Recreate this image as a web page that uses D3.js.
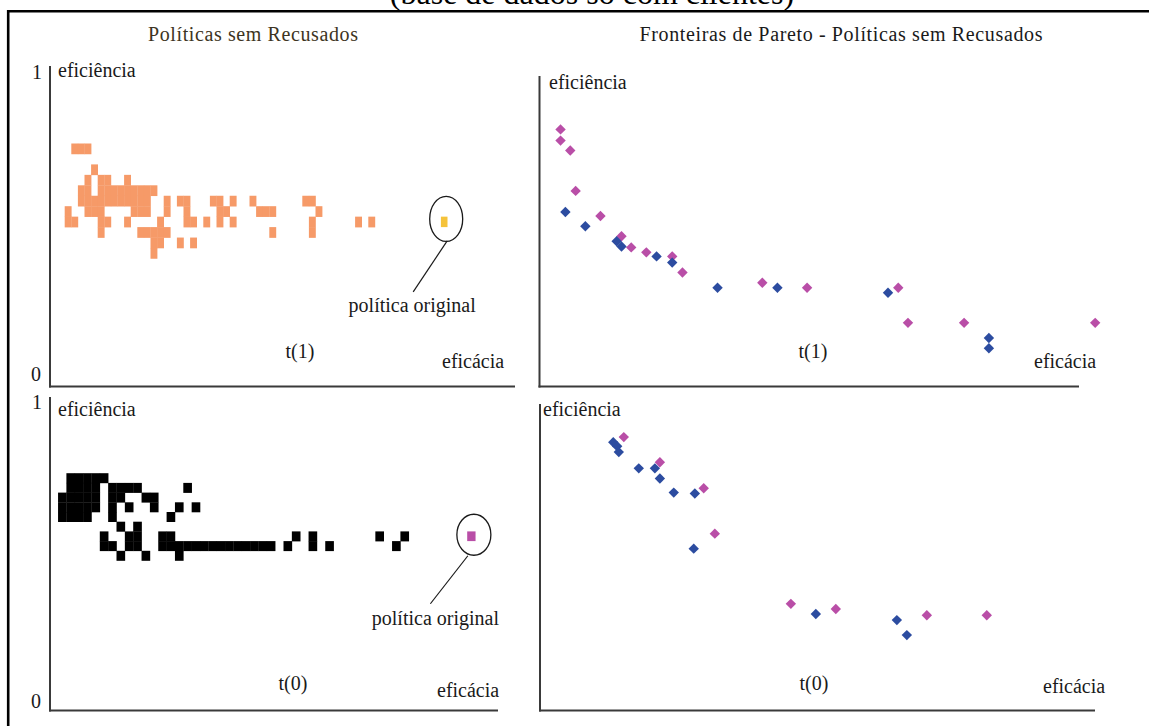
<!DOCTYPE html>
<html>
<head>
<meta charset="utf-8">
<script src="https://cdn.jsdelivr.net/npm/d3@7"></script>
<style>
  body { margin: 0; background: #fff; }
  svg text { font-family: "Liberation Serif", "Times New Roman", serif; }
</style>
</head>
<body>
<svg id="chart" width="1149" height="726"></svg>
<script>
// ---------- data ----------
const caption = "(base de dados só com clientes)";
const panelTitles = ["Políticas sem Recusados", "Fronteiras de Pareto - Políticas sem Recusados"];
const periods = ["t(1)", "t(0)"];
const yAxisName = "eficiência";
const xAxisName = "eficácia";
const yTickLabels = ["0", "1"];
const originalLabel = "política original";

// Policy grid cells, period t(1): [eficácia bin, eficiência row (top = 0)]
const cellsT1 = [
  [1,0],[2,0],[3,0],
  [4,2],
  [3,3],[5,3],[6,3],[9,3],
  [2,4],[3,4],[5,4],[6,4],[7,4],[8,4],[9,4],[10,4],[11,4],[12,4],[13,4],
  [2,5],[3,5],[4,5],[5,5],[6,5],[7,5],[8,5],[9,5],[10,5],[11,5],[12,5],[15,5],[17,5],[18,5],
  [22,5],[23,5],[25,5],[28,5],[36,5],[37,5],
  [0,6],[3,6],[4,6],[5,6],[10,6],[11,6],[12,6],[15,6],[18,6],[23,6],[24,6],[29,6],[30,6],[31,6],[38,6],
  [0,7],[1,7],[5,7],[6,7],[9,7],[14,7],[18,7],[19,7],[21,7],[23,7],[25,7],[37,7],[44,7],[46,7],
  [5,8],[11,8],[12,8],[13,8],[14,8],[15,8],[31,8],[37,8],
  [13,9],[14,9],[17,9],[19,9],
  [13,10]
];
const originalT1 = [57, 7];

// Policy grid cells, period t(0)
const cellsT0 = [
  [1,1],[2,1],[3,1],[4,1],[5,1],
  [1,2],[2,2],[3,2],[4,2],[6,2],[7,2],[8,2],[9,2],[15,2],
  [0,3],[1,3],[2,3],[3,3],[4,3],[6,3],[7,3],[10,3],[11,3],
  [0,4],[1,4],[2,4],[3,4],[4,4],[6,4],[8,4],[11,4],[14,4],[16,4],
  [0,5],[1,5],[2,5],[3,5],[6,5],[13,5],
  [7,6],[9,6],
  [5,7],[8,7],[9,7],[12,7],[13,7],[28,7],[30,7],[38,7],[41,7],
  [5,8],[6,8],[8,8],[9,8],[12,8],[13,8],[14,8],[15,8],[16,8],[17,8],[18,8],[19,8],[20,8],
  [21,8],[22,8],[23,8],[24,8],[25,8],[27,8],[30,8],[32,8],[40,8],
  [7,9],[10,9],[14,9]
];
const originalT0 = [49, 7];

// Pareto fronts: [eficácia, eficiência]
const frontT1A = [
  [0.048,0.562],[0.085,0.516],[0.143,0.468],[0.152,0.451],[0.217,0.419],[0.246,0.399],
  [0.330,0.318],[0.441,0.318],[0.646,0.302],[0.833,0.156],[0.833,0.123]
];
const frontT1B = [
  [0.039,0.828],[0.039,0.792],[0.057,0.760],[0.067,0.630],[0.113,0.549],[0.152,0.484],
  [0.170,0.448],[0.198,0.432],[0.246,0.419],[0.265,0.367],[0.413,0.334],[0.496,0.318],
  [0.665,0.318],[0.683,0.205],[0.787,0.205],[1.030,0.205]
];
const frontT0A = [
  [0.132,0.875],[0.139,0.862],[0.142,0.843],[0.178,0.790],[0.207,0.790],[0.216,0.757],
  [0.241,0.711],[0.279,0.708],[0.277,0.528],[0.497,0.315],[0.643,0.295],[0.661,0.246]
];
const frontT0B = [
  [0.151,0.892],[0.216,0.810],[0.295,0.725],[0.315,0.577],[0.452,0.348],[0.533,0.331],
  [0.697,0.311],[0.805,0.311]
];

// ---------- drawing ----------
const svg = d3.select("#chart");
const INK = "#1a1a1a";
const AXIS = "#3a3a3a";
const ORANGE = "#f69a68";
const YELLOW = "#f5c33b";
const BLUE = "#2c4ca0";
const MAGENTA = "#b94ea7";

// outer frame and caption
svg.append("text").attr("x", 592).attr("y", 4).attr("text-anchor", "middle")
  .attr("font-size", 32).attr("fill", "#000").text(caption);
svg.append("line").attr("x1", 7).attr("x2", 1149).attr("y1", 11.3).attr("y2", 11.3)
  .attr("stroke", "#000").attr("stroke-width", 2.6);
svg.append("line").attr("x1", 8.2).attr("x2", 8.2).attr("y1", 10).attr("y2", 726)
  .attr("stroke", "#000").attr("stroke-width", 2.6);

// panel titles
svg.append("text").attr("x", 253).attr("y", 41).attr("text-anchor", "middle")
  .attr("font-size", 20).attr("textLength", 210).attr("lengthAdjust", "spacing")
  .attr("fill", "#3d3422").text(panelTitles[0]);
svg.append("text").attr("x", 841).attr("y", 41).attr("text-anchor", "middle")
  .attr("font-size", 20).attr("textLength", 403).attr("lengthAdjust", "spacing")
  .attr("fill", INK).text(panelTitles[1]);

function label(x, y, txt, anchor) {
  svg.append("text").attr("x", x).attr("y", y).attr("font-size", 20)
    .attr("text-anchor", anchor || "start").attr("fill", INK).text(txt);
}

function axes(p) {
  const g = svg.append("g");
  g.append("line").attr("x1", p.ax).attr("x2", p.ax).attr("y1", p.top).attr("y2", p.base + 1)
    .attr("stroke", AXIS).attr("stroke-width", 2);
  g.append("line").attr("x1", p.ax - 1).attr("x2", p.xEnd).attr("y1", p.base).attr("y2", p.base)
    .attr("stroke", AXIS).attr("stroke-width", 2);
  label(p.yLab[0], p.yLab[1], yAxisName);
  label(p.xLab[0], p.xLab[1], xAxisName);
  label(p.tLab[0], p.tLab[1], p.period, "middle");
  if (p.ticks) {
    label(p.ticks.one[0], p.ticks.one[1], yTickLabels[1]);
    label(p.ticks.zero[0], p.ticks.zero[1], yTickLabels[0]);
  }
}

// grid panels (left column)
function gridPanel(p, cells, original, fill, origFill) {
  axes(p);
  const x = d3.scaleLinear().domain([0, 1]).range([p.cx0, p.cx0 + p.cw]);
  const y = d3.scaleLinear().domain([0, 1]).range([p.cy0, p.cy0 + p.ch]);
  const g = svg.append("g");
  g.selectAll("rect.cell").data(cells).join("rect")
    .attr("class", "cell")
    .attr("x", d => x(d[0])).attr("y", d => y(d[1]))
    .attr("width", d => x(d[0] + 1) - x(d[0]) + 0.3)
    .attr("height", d => y(d[1] + 1) - y(d[1]) + 0.3)
    .attr("fill", fill);
  const ox = x(original[0]), oy = y(original[1]);
  const ow = x(original[0] + 1) - ox, oh = y(original[1] + 1) - oy;
  g.append("rect").attr("x", ox).attr("y", oy).attr("width", ow).attr("height", oh).attr("fill", origFill);
  const cx = ox + ow / 2, cy = oy + oh / 2;
  g.append("ellipse").attr("cx", cx + p.ell.dx).attr("cy", cy + p.ell.dy)
    .attr("rx", p.ell.rx).attr("ry", p.ell.ry)
    .attr("fill", "none").attr("stroke", INK).attr("stroke-width", 1.3);
  g.append("line")
    .attr("x1", cx + p.lead[0]).attr("y1", cy + p.lead[1])
    .attr("x2", cx + p.lead[2]).attr("y2", cy + p.lead[3])
    .attr("stroke", INK).attr("stroke-width", 1.2);
  label(cx + p.note[0], cy + p.note[1], originalLabel, "middle");
}

function diamond(cx, cy, r) {
  return `M${cx},${cy - r}L${cx + r},${cy}L${cx},${cy + r}L${cx - r},${cy}Z`;
}

// Pareto panels (right column)
function frontPanel(p, seriesA, seriesB) {
  axes(p);
  const x = d3.scaleLinear().domain([0, 1]).range([p.ax, p.xEnd]);
  const y = d3.scaleLinear().domain([0, 1]).range([p.base, p.top]);
  const g = svg.append("g");
  [[seriesB, MAGENTA], [seriesA, BLUE]].forEach(([s, c]) => {
    g.selectAll(null).data(s).join("path")
      .attr("d", d => diamond(x(d[0]), y(d[1]), 5.2))
      .attr("fill", c);
  });
}

gridPanel({
  ax: 50, top: 66, base: 386.5, xEnd: 515, period: periods[0],
  yLab: [58, 77], xLab: [442, 368], tLab: [300, 358],
  ticks: { one: [32, 79], zero: [31, 381] },
  cx0: 64.7, cw: 6.6, cy0: 143.5, ch: 10.45,
  ell: { dx: 2, dy: -3, rx: 16.5, ry: 22.5 },
  lead: [3, 19, -31, 70], note: [-32, 90]
}, cellsT1, originalT1, ORANGE, YELLOW);

frontPanel({
  ax: 539.5, top: 76, base: 386.5, xEnd: 1079, period: periods[0],
  yLab: [549, 89], xLab: [1034, 368], tLab: [813, 358]
}, frontT1A, frontT1B);

gridPanel({
  ax: 50, top: 397, base: 710.5, xEnd: 498, period: periods[1],
  yLab: [58, 416], xLab: [437, 697], tLab: [293, 690],
  ticks: { one: [32, 409], zero: [31, 708] },
  cx0: 58.05, cw: 8.35, cy0: 463.5, ch: 9.7,
  ell: { dx: 2.5, dy: -1.5, rx: 17, ry: 20.5 },
  lead: [-3.5, 19.5, -41, 67.5], note: [-36, 89]
}, cellsT0, originalT0, "#000", MAGENTA);

frontPanel({
  ax: 540, top: 404, base: 710.5, xEnd: 1095, period: periods[1],
  yLab: [543, 416], xLab: [1043, 693], tLab: [814, 690]
}, frontT0A, frontT0B);
</script>
</body>
</html>
